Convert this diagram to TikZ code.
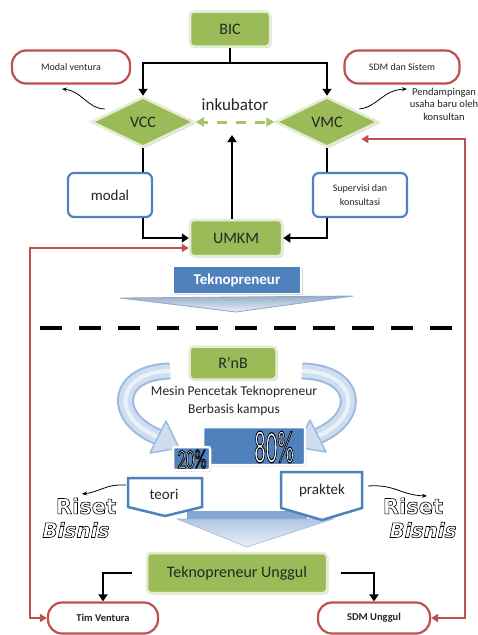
\documentclass[tikz,border=0pt]{standalone}
\usepackage{fontspec}
\usepackage{graphicx}
\setmainfont{Carlito}
\newfontfamily\decofont{DejaVu Sans}
\usetikzlibrary{shapes.geometric,arrows.meta,shadows,calc}

\definecolor{leaf}{HTML}{9BBB59}
\definecolor{leafrim}{HTML}{E4EDD2}
\definecolor{brick}{HTML}{C0504D}
\definecolor{steel}{HTML}{4F81BD}
\definecolor{sky}{HTML}{CFDDF0}
\definecolor{skyrim}{HTML}{9DB9DB}
\definecolor{skylight}{HTML}{EAF1F9}
\definecolor{sprout}{HTML}{A6C46A}

% white glyphs stroked with a black outline (#1 = stroke width in bp)
\newcommand\strokedtext[2]{%
  \special{pdf:literal 2 Tr #1 w 0 0 0 RG}#2\special{pdf:literal 0 Tr}}

\tikzset{
  softshadow/.style={drop shadow={shadow xshift=1.5pt, shadow yshift=-1.5pt, opacity=0.3}},
  greenbox/.style={rectangle, rounded corners=4pt, fill=leaf, draw=leafrim, line width=2.5pt,
    softshadow, font=\fontsize{16}{18}\selectfont, text=black!85, inner sep=0pt},
  greendiamond/.style={diamond, fill=leaf, draw=leafrim, line width=2.5pt, softshadow,
    inner sep=0pt, minimum width=103pt, minimum height=50pt,
    font=\fontsize{16}{18}\selectfont, text=black!85},
  redbox/.style={rectangle, rounded corners=14pt, draw=brick, line width=2.2pt, fill=white,
    inner sep=0pt, font=\fontsize{10}{12}\selectfont, text=black!85},
  bluebox/.style={rectangle, rounded corners=6pt, draw=steel, line width=2.2pt, fill=white,
    inner sep=0pt, text=black!85},
  conn/.style={line width=2.5pt, black},
  arr/.style={-{Triangle[length=7pt,width=9pt]}},
  redline/.style={line width=2.2pt, brick, {Triangle[length=7pt,width=8pt]}-{Triangle[length=7pt,width=8pt]}},
  inkline/.style={line width=3pt, sprout, dash pattern=on 10pt off 9pt, dash phase=-14pt,
    {Triangle[length=8pt,width=9pt]}-{Triangle[length=8pt,width=9pt]}},
  thinarrow/.style={line width=0.8pt, black, -{Stealth[length=5pt,width=4pt]}},
  tab/.style={draw=steel, line width=2.5pt, fill=white, line join=miter},
  decoword/.style={inner sep=0pt, text=white, font=\decofont\bfseries\fontsize{21}{21}\selectfont},
  shareword/.style={inner sep=0pt, text=white},
}

\begin{document}
\begin{tikzpicture}[x=1pt,y=-1pt]
\useasboundingbox (0,0) rectangle (477,635);
\fill[white] (0,0) rectangle (477,635);

% ---------- upper part: incubator ----------
\node[greenbox, minimum width=80pt, minimum height=35pt] (BIC) at (230,29) {BIC};
\node[greendiamond] (VCC) at (143,122) {VCC};
\node[greendiamond] (VMC) at (327,122) {VMC};
\node[redbox, minimum width=118pt, minimum height=33pt] (modalv) at (71,67) {Modal ventura};
\node[redbox, minimum width=115pt, minimum height=33pt] (sdmsis) at (402,67) {SDM dan Sistem};
\node[font=\fontsize{17}{20}\selectfont, text=black!85] (ink) at (235,105) {inkubator};
\node[bluebox, minimum width=84pt, minimum height=44pt, font=\fontsize{15}{18}\selectfont] (modal) at (110,195) {modal};
\node[bluebox, minimum width=94pt, minimum height=44pt, font=\fontsize{10}{14}\selectfont, align=center] (superv) at (360,195) {Supervisi dan\\konsultasi};
\node[greenbox, minimum width=92pt, minimum height=36pt] (UMKM) at (236,238) {UMKM};
\node[font=\fontsize{10.5}{12.5}\selectfont, align=center, text=black!85] (pend) at (444,104) {Pendampingan\\usaha baru oleh\\konsultan};

\coordinate (hub) at (232,135);
\coordinate (mvtip) at (62,89);
\coordinate (pendtip) at (407,89);

\draw[conn, arr] (BIC.south) -- ++(0,15) -| (VCC.north);
\draw[conn, arr] (BIC.south) -- ++(0,15) -| (VMC.north);
\draw[inkline] (VCC.east) -- (VMC.west);
\draw[conn, arr] (UMKM.north -| hub) -- (hub);

\draw[conn] (VCC.south) -- (VCC.south |- modal.north);
\draw[conn, arr] (VCC.south |- modal.south) |- (UMKM.west);
\draw[conn] (VMC.south) -- (VMC.south |- superv.north);
\draw[conn, arr] (VMC.south |- superv.south) |- (UMKM.east);

\draw[thinarrow] ([xshift=-12pt]VCC.north west) .. controls (88,109) and (82,91) .. (mvtip);
\draw[thinarrow] ([xshift=6pt]VMC.north east) .. controls (378,107) and (382,90) .. (pendtip);

% Teknopreneur banner with flat chevron
\shade[top color=skyrim!80!gray, bottom color=skylight, draw=skyrim!70!gray, line width=0.8pt]
  (120,298) -- (353,296) -- (236,312) -- cycle;
\node[rectangle, fill=steel, draw=white, line width=1.5pt, softshadow, minimum width=128pt,
  minimum height=27pt, inner sep=0pt, text=white, font=\bfseries\fontsize{15}{18}\selectfont] (tekno) at (237,280) {Teknopreneur};

% separator
\draw[line width=4pt, black, dash pattern=on 22pt off 17pt] (40,328) -- (452,328);

% ---------- lower part: R'nB ----------
\node[greenbox, minimum width=87pt, minimum height=33pt] (RnB) at (233,363) {R’nB};
\node[font=\fontsize{13.5}{18}\selectfont, align=center, text=black!85] (mesin) at (234,401) {Mesin Pencetak Teknopreneur\\Berbasis kampus};

% curved feed arrows
\draw[line width=17pt, skyrim] (170,371) .. controls (116,372) and (110,417) .. (158,437);
\draw[line width=13pt, sky] (170,371) .. controls (116,372) and (110,417) .. (158,437);
\draw[line width=4pt, skylight] (170,371) .. controls (116,372) and (110,417) .. (158,437);
\filldraw[fill=sky, draw=skyrim, line width=1.5pt, line join=round] (150,453) -- (166,421) -- (179,448) -- cycle;

\draw[line width=17pt, skyrim] (302,371) .. controls (357,372) and (364,416) .. (318,436);
\draw[line width=13pt, sky] (302,371) .. controls (357,372) and (364,416) .. (318,436);
\draw[line width=4pt, skylight] (302,371) .. controls (357,372) and (364,416) .. (318,436);
\filldraw[fill=sky, draw=skyrim, line width=1.5pt, line join=round] (326,452) -- (310,420) -- (297,447) -- cycle;

% big down arrow head
\fill[steel!70] (187,511) rectangle (307,519);
\shade[top color=steel!45, bottom color=skylight, draw=skyrim, line width=0.6pt]
  (177,519) -- (333,519) -- (247,547) -- cycle;

% share boxes
\node[rectangle, rounded corners=2pt, fill=steel, draw=white, line width=2.5pt, softshadow,
  minimum width=102pt, minimum height=38pt, inner sep=0pt] (p80) at (254,446) {};
\node[rectangle, rounded corners=2pt, fill=steel, draw=white, line width=2.5pt, softshadow,
  minimum width=37pt, minimum height=23pt, inner sep=0pt] (p20) at (191.5,458.5) {};
\node[shareword, font=\fontsize{46}{46}\selectfont] (t80) at (274,447) {\scalebox{0.5}[1]{\strokedtext{1.2}{80\%}}};
\node[shareword, font=\fontsize{27}{27}\selectfont] (t20) at (192,459) {\scalebox{0.62}[1]{\strokedtext{1}{20\%}}};

% teori / praktek tabs
\draw[tab] (128,478) -- (202,478) -- (202,507) -- (165,516) -- (128,507) -- cycle;
\node[font=\fontsize{15}{18}\selectfont, text=black!85] (teori) at (164,494) {teori};
\draw[tab] (281,472) -- (362,472) -- (362,508) -- (322,520) -- (281,508) -- cycle;
\node[font=\fontsize{15}{18}\selectfont, text=black!85] (praktek) at (322,490) {praktek};

% Riset Bisnis marks
\node[decoword] (rl1) at (86,506) {\strokedtext{0.6}{Riset}};
\node[decoword, font=\decofont\bfseries\itshape\fontsize{20}{20}\selectfont] (rl2) at (76,530) {\strokedtext{0.6}{Bisnis}};
\node[decoword] (rr1) at (413,506) {\strokedtext{0.6}{Riset}};
\node[decoword, font=\decofont\bfseries\itshape\fontsize{20}{20}\selectfont] (rr2) at (423,530) {\strokedtext{0.6}{Bisnis}};

\coordinate (teoriout) at (126,485);
\coordinate (praktekout) at (368,486);
\coordinate (rltip) at (82,494);
\coordinate (rrtip) at (427,496);
\draw[thinarrow] (teoriout) .. controls (105,484) and (100,492) .. (rltip);
\draw[thinarrow] (praktekout) .. controls (395,484) and (400,495) .. (rrtip);

% outcome
\node[greenbox, minimum width=180pt, minimum height=40pt] (TU) at (237,573) {Teknopreneur Unggul};
\node[redbox, minimum width=110pt, minimum height=31pt, font=\bfseries\fontsize{10.5}{12}\selectfont] (TimV) at (103,618) {Tim Ventura};
\node[redbox, minimum width=112pt, minimum height=31pt, font=\bfseries\fontsize{10.5}{12}\selectfont] (SDMU) at (374,618) {SDM Unggul};

\draw[conn, arr] ([xshift=-14pt]TU.west) -| (TimV.north);
\draw[conn, arr] ([xshift=13pt]TU.east) -| (SDMU.north);

% feedback lines
\coordinate (leftrail) at (30,0);
\coordinate (rightrail) at (465,0);
\draw[redline] ([yshift=-10pt]UMKM.west) -| (leftrail |- TimV.west) -- (TimV.west);
\draw[redline] ([shift={(8pt,-4pt)}]VMC.south east) -| (rightrail |- SDMU.east) -- (SDMU.east);
\end{tikzpicture}
\end{document}
